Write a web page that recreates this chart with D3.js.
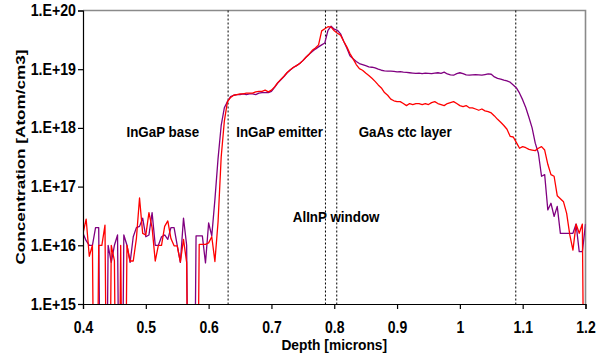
<!DOCTYPE html>
<html>
<head>
<meta charset="utf-8">
<script src="https://cdn.jsdelivr.net/npm/d3@7/dist/d3.min.js"></script>
<style>
  html, body { margin: 0; padding: 0; background: #fff; }
  svg { display: block; }
  text { font-family: "Liberation Sans", Arial, Helvetica, sans-serif; font-weight: bold; fill: #000; }
</style>
</head>
<body>
<svg id="chart" width="600" height="355"></svg>
<script>
// ---------------- data ----------------
const depthStart = 0.4;
const depthStep = 0.005;

// Sample 1 (red) concentration [atom/cm3]; 1e10 = below detection (off-scale)
const redConc = [
  1.6e16, 2.8e16, 6.5e15, 1.0e16, 1e10, 1.0e16, 1.0e16, 2.2e16, 1e10, 1.0e16,
  5.5e15, 1e10, 1.0e16, 1e10, 1.0e16, 5.4e15, 5.4e15, 1.3e16, 6.4e16, 1.6e16,
  1.5e16, 3.6e16, 2.0e16, 5.4e15, 1.0e16, 1.0e16, 2.1e16, 2.6e16, 1.3e16, 9.8e15,
  9.8e15, 5.2e15, 1.26e16, 5.1e15, 1e10, 1e10, 1e10, 1.04e16, 1.04e16, 1.04e16,
  1.1e16, 1.4e16, 5.3e15, 2.5e16, 3.2e17, 1.3e18, 2.8e18, 3.3e18, 3.6e18, 3.7e18,
  3.8e18, 3.8e18, 3.9e18, 3.9e18, 3.9e18, 4.1e18, 4.2e18, 4.2e18, 4.4e18, 4.1e18,
  4.4e18, 5.0e18, 5.9e18, 6.7e18, 7.6e18, 8.8e18, 9.8e18, 1.08e19, 1.15e19, 1.25e19,
  1.4e19, 1.6e19, 1.8e19, 2.1e19, 2.3e19, 2.6e19, 4.5e19, 4.9e19, 5.3e19, 5.2e19,
  4.5e19, 4.1e19, 3.8e19, 3.0e19, 2.4e19, 1.85e19, 1.5e19, 1.2e19, 1.02e19, 9.6e18,
  8.6e18, 7.8e18, 7.0e18, 6.2e18, 5.4e18, 4.8e18, 4.0e18, 3.6e18, 3.1e18, 2.9e18,
  2.8e18, 2.8e18, 2.6e18, 2.4e18, 2.6e18, 2.5e18, 2.6e18, 2.6e18, 2.5e18, 2.6e18,
  2.5e18, 2.7e18, 2.8e18, 2.6e18, 2.5e18, 2.4e18, 2.6e18, 2.7e18, 2.8e18, 2.6e18,
  2.4e18, 2.3e18, 2.4e18, 2.2e18, 2.2e18, 2.1e18, 2.0e18, 2.1e18, 1.95e18, 1.9e18,
  1.8e18, 1.6e18, 1.4e18, 1.25e18, 1.1e18, 9.5e17, 7.2e17, 7.0e17, 5.6e17, 4.5e17,
  4.8e17, 4.6e17, 4.3e17, 4.2e17, 4.1e17, 4.5e17, 4.8e17, 4.2e17, 2.4e17, 1.6e17,
  1.5e17, 7e16, 6.2e16, 5.5e16, 3.5e16, 1.5e16, 8.3e15, 2.3e16, 1.6e16, 2.3e16,
  1e10
];

// Sample 2 (purple)
const purpleConc = [
  1.6e16, 1.2e16, 1.0e16, 1.0e16, 2.0e16, 2.0e16, 1e10, 1e10, 1.0e16, 5.1e15,
  1.0e16, 1.5e16, 1e10, 1.5e16, 1.0e16, 5.1e15, 1.4e16, 2.0e16, 2.1e16, 2.9e16,
  1.4e16, 1.5e16, 3.6e16, 1.0e16, 1.0e16, 1.4e16, 1.5e16, 1.26e16, 2.0e16, 2.0e16,
  1.0e16, 5.1e15, 2.9e16, 1.0e16, 1e10, 1e10, 1.45e16, 1.45e16, 1.45e16, 5.0e15,
  2.4e16, 1.45e16, 6.0e16, 3.0e17, 1.1e18, 2.2e18, 2.8e18, 3.4e18, 3.6e18, 3.7e18,
  3.7e18, 3.8e18, 3.7e18, 3.8e18, 3.8e18, 3.7e18, 3.9e18, 4.0e18, 4.0e18, 4.0e18,
  4.2e18, 4.9e18, 5.8e18, 6.6e18, 7.5e18, 8.7e18, 9.7e18, 1.07e19, 1.15e19, 1.25e19,
  1.4e19, 1.6e19, 1.8e19, 2.0e19, 2.2e19, 2.4e19, 2.6e19, 2.8e19, 4.6e19, 5.4e19,
  4.8e19, 4.6e19, 4.0e19, 3.0e19, 2.3e19, 1.7e19, 1.5e19, 1.35e19, 1.25e19, 1.2e19,
  1.15e19, 1.1e19, 1.08e19, 1.05e19, 1.0e19, 9.6e18, 9.4e18, 9.3e18, 9.3e18, 9.2e18,
  9.0e18, 9.1e18, 8.9e18, 8.8e18, 8.7e18, 8.6e18, 8.5e18, 8.6e18, 8.4e18, 8.6e18,
  8.5e18, 8.4e18, 8.6e18, 8.7e18, 8.5e18, 8.9e18, 8.3e18, 8.0e18, 7.9e18, 8.4e18,
  8.7e18, 8.4e18, 8.0e18, 7.9e18, 8.0e18, 8.1e18, 8.0e18, 7.9e18, 8.1e18, 8.3e18,
  8.2e18, 7.4e18, 7.0e18, 6.8e18, 6.5e18, 6.3e18, 6.0e18, 5.4e18, 4.8e18, 3.9e18,
  3.0e18, 2.2e18, 1.5e18, 1.0e18, 5.5e17, 3.7e17, 1.5e17, 1.6e17, 4.0e16, 5.2e16,
  3.1e16, 4.6e16, 1.6e16, 1.6e16, 1.6e16, 1.6e16, 1.6e16, 2.3e16, 7.8e15, 7.8e15,
  2.3e16
];

const layerBoundaries = [0.631, 0.786, 0.804, 1.089];
const layerLabels = ["InGaP base", "InGaP emitter", "GaAs ctc layer", "AlInP window"];
const layerLabelDepths = [0.527, 0.713, 0.913, 0.803];
const layerLabelConc = [7e17, 7e17, 7e17, 2.5e16];

const xTicks = [0.4, 0.5, 0.6, 0.7, 0.8, 0.9, 1.0, 1.1, 1.2];
const xTickLabels = ["0.4", "0.5", "0.6", "0.7", "0.8", "0.9", "1", "1.1", "1.2"];
const yTicks = [1e15, 1e16, 1e17, 1e18, 1e19, 1e20];
const yTickLabels = ["1.E+15", "1.E+16", "1.E+17", "1.E+18", "1.E+19", "1.E+20"];

const xTitle = "Depth [microns]";
const yTitle = "Concentration [Atom/cm3]";

// ---------------- layout ----------------
const svg = d3.select("#chart");
const L = 83, R = 585.5, T = 10.5, B = 304;
const SY = 1.12; // vertical stretch of the original text rendering

const x = d3.scaleLinear().domain([0.4, 1.2]).range([L, R]);
const y = d3.scaleLog().domain([1e15, 1e20]).range([B, T]);

svg.append("defs").append("clipPath").attr("id", "plotclip")
  .append("rect").attr("x", L).attr("y", T).attr("width", R - L).attr("height", B - T);

// top/right plot border (gray)
svg.append("path")
  .attr("d", `M${L},${T}H${R}V${B}`)
  .attr("fill", "none").attr("stroke", "#8a8a8a").attr("stroke-width", 1.6);

// dashed layer boundaries
svg.append("g").selectAll("line").data(layerBoundaries).join("line")
  .attr("x1", d => x(d)).attr("x2", d => x(d))
  .attr("y1", T).attr("y2", B)
  .attr("stroke", "#000").attr("stroke-width", 1).attr("stroke-dasharray", "2,2");

// series
const toPts = arr => arr.map((v, i) => [depthStart + i * depthStep, v]);
const line = d3.line().x(d => x(d[0])).y(d => y(d[1]));
const g = svg.append("g").attr("clip-path", "url(#plotclip)");
g.append("path").datum(toPts(purpleConc)).attr("d", line)
  .attr("fill", "none").attr("stroke", "#800080").attr("stroke-width", 1.3).attr("stroke-linejoin", "round");
g.append("path").datum(toPts(redConc)).attr("d", line)
  .attr("fill", "none").attr("stroke", "#ff0000").attr("stroke-width", 1.3).attr("stroke-linejoin", "round");

// axes
const yAxis = svg.append("g").attr("transform", `translate(${L},0)`)
  .call(d3.axisLeft(y).tickValues(yTicks).tickFormat((d, i) => yTickLabels[i]).tickSizeOuter(0).tickSize(5).tickPadding(2));
const xAxis = svg.append("g").attr("transform", `translate(0,${B})`)
  .call(d3.axisBottom(x).tickValues(xTicks).tickFormat((d, i) => xTickLabels[i]).tickSizeOuter(0).tickSize(5).tickPadding(14));
[yAxis, xAxis].forEach(a => {
  a.attr("font-family", null).attr("font-size", null);
  a.select(".domain").attr("stroke", "#000").attr("stroke-width", 1.2);
  a.selectAll(".tick line").attr("stroke", "#000").attr("stroke-width", 1.2);
});
// stretch tick labels vertically like the source
yAxis.selectAll(".tick text").attr("font-size", 14.2).attr("dy", null)
  .each(function () {
    const t = d3.select(this);
    const xx = +t.attr("x");
    t.attr("x", null).attr("transform", `translate(${xx},5) scale(1,${SY})`);
  });
xAxis.selectAll(".tick text").attr("font-size", 14).attr("dy", null)
  .each(function () {
    const t = d3.select(this);
    t.attr("y", null).attr("transform", `translate(0,29) scale(1,${SY})`);
  });

// layer labels
svg.append("g").selectAll("text").data(layerLabels).join("text")
  .attr("transform", (d, i) => `translate(${x(layerLabelDepths[i])},${y(layerLabelConc[i])}) scale(1,${SY})`)
  .attr("text-anchor", "middle")
  .attr("font-size", 13.4)
  .text(d => d);

// axis titles
svg.append("text").attr("transform", `translate(${(L + R) / 2},350) scale(1,${SY})`)
  .attr("text-anchor", "middle").attr("font-size", 13.8).text(xTitle);
svg.append("text").attr("transform", `translate(25,157) rotate(-90)`)
  .attr("text-anchor", "middle").attr("font-size", 13.6)
  .attr("textLength", 215).attr("lengthAdjust", "spacingAndGlyphs")
  .text(yTitle);
</script>
</body>
</html>
